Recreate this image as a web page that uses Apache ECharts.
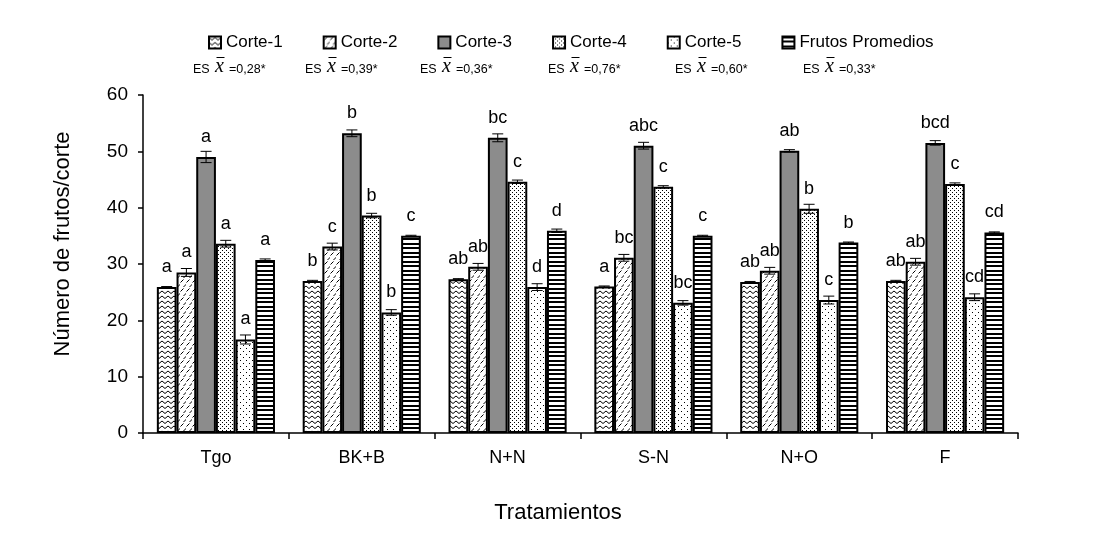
<!DOCTYPE html>
<html>
<head>
<meta charset="utf-8">
<script src="https://cdn.jsdelivr.net/npm/echarts@6/dist/echarts.min.js"></script>
<style>
  html, body { margin: 0; padding: 0; background: #fff; }
  #frutosChart { width: 1102px; height: 537px; }
</style>
</head>
<body>
<div id="frutosChart"></div>
<script>
// datos
const categories = ['Tgo', 'BK+B', 'N+N', 'S-N', 'N+O', 'F']
const seriesNames = ['Corte-1', 'Corte-2', 'Corte-3', 'Corte-4', 'Corte-5', 'Frutos Promedios']

const corte1 = [25.9, 27.0, 27.3, 26.0, 26.8, 27.0]
const corte2 = [28.5, 33.1, 29.5, 31.1, 28.8, 30.4]
const corte3 = [49.0, 53.2, 52.4, 51.0, 50.1, 51.5]
const corte4 = [33.6, 38.6, 44.6, 43.7, 39.8, 44.2]
const corte5 = [16.6, 21.4, 25.9, 23.1, 23.6, 24.1]
const promedio = [30.7, 35.0, 35.9, 35.0, 33.8, 35.6]

// error estandar de cada barra
const err1 = [0.1, 0.1, 0.1, 0.1, 0.1, 0.1]
const err2 = [0.7, 0.6, 0.6, 0.6, 0.6, 0.6]
const err3 = [1.0, 0.6, 0.7, 0.6, 0.2, 0.4]
const err4 = [0.6, 0.4, 0.3, 0.2, 0.8, 0.2]
const err5 = [0.8, 0.5, 0.6, 0.4, 0.7, 0.6]
const errP = [0.2, 0.1, 0.3, 0.1, 0.1, 0.1]

// letras de significancia
const letras1 = ['a', 'b', 'ab', 'a', 'ab', 'ab']
const letras2 = ['a', 'c', 'ab', 'bc', 'ab', 'ab']
const letras3 = ['a', 'b', 'bc', 'abc', 'ab', 'bcd']
const letras4 = ['a', 'b', 'c', 'c', 'b', 'c']
const letras5 = ['a', 'b', 'd', 'bc', 'c', 'cd']
const letrasP = ['a', 'c', 'd', 'c', 'b', 'cd']

const esValues = ['0,28', '0,39', '0,36', '0,76', '0,60', '0,33']

const yTicks = { min: 0, max: 60, interval: 10 }

const values = [corte1, corte2, corte3, corte4, corte5, promedio]
const errors = [err1, err2, err3, err4, err5, errP]
const letters = [letras1, letras2, letras3, letras4, letras5, letrasP]

const FONT = 'Liberation Sans, Arial, sans-serif'
const GAP = 0.19 // barCategoryGap

// tramas tipo excel
function tile(w, h, draw) {
  const c = document.createElement('canvas')
  c.width = w
  c.height = h
  const ctx = c.getContext('2d')
  ctx.fillStyle = '#fff'
  ctx.fillRect(0, 0, w, h)
  ctx.fillStyle = '#000'
  ctx.strokeStyle = '#000'
  draw(ctx)
  return { image: c, repeat: 'repeat' }
}
const fills = [
  tile(6, 5, ctx => { // zigzag
    ctx.lineWidth = 1
    ctx.beginPath()
    ctx.moveTo(0, 1); ctx.lineTo(3, 3.5); ctx.lineTo(6, 1)
    ctx.stroke()
  }),
  tile(6, 9, ctx => { // rayitas diagonales
    ctx.lineWidth = 1
    ctx.beginPath()
    ctx.moveTo(0.5, 3.5); ctx.lineTo(3.5, 0.5)
    ctx.moveTo(3.5, 8); ctx.lineTo(6.5, 5)
    ctx.stroke()
  }),
  '#8c8c8c',
  tile(4, 4, ctx => { // puntos densos
    ctx.fillRect(0, 0, 1, 1)
    ctx.fillRect(2, 2, 1, 1)
  }),
  tile(6, 6, ctx => { // puntos ralos
    ctx.fillRect(0, 0, 1, 1)
    ctx.fillRect(3, 3, 1, 1)
  }),
  tile(1, 9, ctx => { // franjas horizontales
    ctx.fillRect(0, 0, 1, 2)
    ctx.fillRect(0, 4, 1, 2)
  })
]

const barSeries = seriesNames.map((name, i) => ({
  name: name,
  type: 'bar',
  barGap: '0%',
  barCategoryGap: (GAP * 100) + '%',
  data: values[i],
  itemStyle: {
    color: fills[i],
    borderColor: '#000',
    borderWidth: 2
  },
  label: {
    show: true,
    position: 'top',
    distance: 11,
    color: '#000',
    fontFamily: FONT,
    fontSize: 18,
    formatter: p => letters[i][p.dataIndex]
  }
}))

// barras de error: [categoria, serie, valor, error]
const errData = []
values.forEach((arr, s) => {
  arr.forEach((v, c) => errData.push([c, s, v, errors[s][c]]))
})

const errorSeries = {
  type: 'custom',
  name: 'error',
  z: 5,
  data: errData,
  encode: { x: 0, y: 2 },
  renderItem(params, api) {
    const c = api.value(0)
    const s = api.value(1)
    const v = api.value(2)
    const e = api.value(3)
    const band = api.size([1, 0])[0]
    const groupW = band * (1 - GAP)
    const bw = groupW / seriesNames.length
    const x = api.coord([c, v])[0] - groupW / 2 + bw * (s + 0.5)
    const yTop = api.coord([c, v + e])[1]
    const yBot = api.coord([c, v - e])[1]
    const half = 5.5
    const style = { stroke: '#000', lineWidth: 1 }
    return {
      type: 'group',
      children: [
        { type: 'line', shape: { x1: x, y1: yTop, x2: x, y2: yBot }, style },
        { type: 'line', shape: { x1: x - half, y1: yTop, x2: x + half, y2: yTop }, style },
        { type: 'line', shape: { x1: x - half, y1: yBot, x2: x + half, y2: yBot }, style }
      ]
    }
  }
}

// etiquetas ES x̄ debajo de la leyenda
const esLeft = [193, 305, 420, 548, 675, 803]
const esGraphics = esValues.map((val, i) => ({
  type: 'group',
  left: esLeft[i],
  top: 55,
  children: [
    { type: 'text', x: 0, y: 6, style: { text: 'ES', font: '12.5px ' + FONT, fill: '#000' } },
    { type: 'text', x: 22, y: 0, style: { text: 'x', font: 'italic 20px Liberation Serif, serif', fill: '#000' } },
    { type: 'line', shape: { x1: 23.5, y1: 0.5, x2: 31.5, y2: 0.5 }, style: { stroke: '#000', lineWidth: 1 } },
    { type: 'text', x: 36, y: 6, style: { text: '=' + val + '*', font: '12.5px ' + FONT, fill: '#000' } }
  ]
}))

// titulos de los ejes
const titleGraphics = [
  {
    type: 'text',
    x: 63,
    y: 244,
    rotation: Math.PI / 2,
    style: { text: 'Número de frutos/corte', font: '22px ' + FONT, fill: '#000', align: 'center', verticalAlign: 'middle' }
  },
  {
    type: 'text',
    x: 558,
    y: 513,
    style: { text: 'Tratamientos', font: '22px ' + FONT, fill: '#000', align: 'center', verticalAlign: 'middle' }
  }
]

const option = {
  backgroundColor: '#fff',
  animation: false,
  textStyle: { fontFamily: FONT },
  legend: {
    data: seriesNames,
    left: 203,
    top: 29,
    itemWidth: 12,
    itemHeight: 12,
    itemGap: 40,
    icon: 'rect',
    textStyle: { fontSize: 17, color: '#000', fontFamily: FONT },
    itemStyle: { borderColor: '#000', borderWidth: 2 }
  },
  grid: {
    left: 143,
    right: 84,
    top: 95,
    bottom: 104
  },
  xAxis: {
    type: 'category',
    data: categories,
    axisLine: { lineStyle: { color: '#000', width: 1.5 } },
    axisTick: { show: true, length: 6, lineStyle: { color: '#000', width: 1.5 } },
    axisLabel: { fontSize: 18, color: '#000', margin: 16, fontFamily: FONT }
  },
  yAxis: {
    type: 'value',
    min: yTicks.min,
    max: yTicks.max,
    interval: yTicks.interval,
    axisLine: { show: true, lineStyle: { color: '#000', width: 1.5 } },
    axisTick: { show: true, length: 5, lineStyle: { color: '#000', width: 1.5 } },
    axisLabel: { fontSize: 19, color: '#000', margin: 15, fontFamily: FONT },
    splitLine: { show: false }
  },
  graphic: esGraphics.concat(titleGraphics),
  series: barSeries.concat([errorSeries])
}

const chart = echarts.init(document.getElementById('frutosChart'))
chart.setOption(option)
</script>
</body>
</html>
